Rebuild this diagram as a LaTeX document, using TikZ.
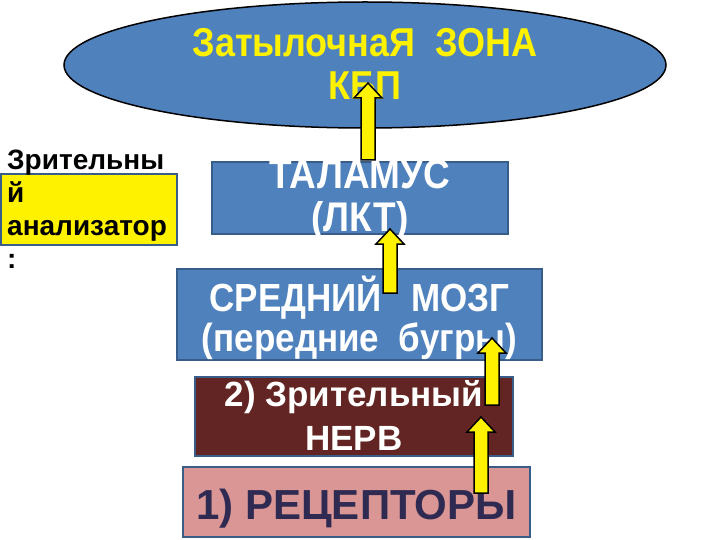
\documentclass[tikz,border=0pt]{standalone}
\usepackage{fontspec}
\setmainfont{Liberation Sans}
\usepackage{tikz}
\usetikzlibrary{calc, fit, shapes.geometric}

\definecolor{slideblue}{HTML}{4F81BD}
\definecolor{boxedge}{HTML}{385D8A}
\definecolor{nervered}{HTML}{632523}
\definecolor{receptpink}{HTML}{D99694}
\definecolor{receptink}{HTML}{2F2A52}

% slightly taller letters, as on the slide
\newcommand{\tall}[1]{\scalebox{1}[1.12]{#1}}

% block arrow from tail (#1) up to tip (#2)
\newcommand{\blockarrow}[2]{%
  \draw[arrowbox] let \p1=(#1), \p2=(#2) in
    (\x1-7pt,\y1) -- (\x1+7pt,\y1) -- (\x1+7pt,\y2-15pt) -- (\x1+14pt,\y2-15pt)
    -- (\x2,\y2) -- (\x1-14pt,\y2-15pt) -- (\x1-7pt,\y2-15pt) -- cycle;}

\begin{document}
\begin{tikzpicture}[x=1pt, y=-1pt,
    box/.style={draw=boxedge, line width=1.5pt, inner sep=0pt},
    boxtext/.style={align=center, inner sep=0pt, font=\bfseries\fontsize{37}{43}\selectfont},
    arrowbox/.style={draw=black, fill=yellow, line width=1.5pt, line join=miter}]
\useasboundingbox (0,0) rectangle (720,540);

\node[ellipse, draw=black, line width=1.5pt, fill=slideblue, minimum width=602pt,
      minimum height=126pt, inner sep=0pt] (zona) at (365,65) {};
\node[boxtext, text=yellow, font=\bfseries\fontsize{36}{43}\selectfont] (zonatext)
  at ([yshift=1pt]zona.center) {\tall{ЗатылочнаЯ\ \ ЗОНА}\\\tall{КБП}};

\node[box, fill=slideblue, fit={(212,162) (508,234)}] (thal) {};
\node[boxtext, text=white] (thaltext) at ([yshift=-2pt]thal.center) {\tall{ТАЛАМУС}\\\tall{(ЛКТ)}};

\node[box, fill=slideblue, fit={(177,269) (542,360)}] (mozg) {};
\node[boxtext, text=white, font=\bfseries\fontsize{35}{40}\selectfont] (mozgtext) at ([yshift=-3.7pt]mozg.center)
  {\tall{СРЕДНИЙ\ \ \ МОЗГ}\\\tall{(передние\ \ бугры)}};

\node[box, fill=nervered, fit={(195,377) (513,456)}] (nerv) {};
\node[boxtext, text=white, font=\bfseries\fontsize{35}{44}\selectfont] (nervtext) at ([yshift=1.5pt]nerv.center)
  {2) Зрительный\\НЕРВ};

\node[box, fill=receptpink, fit={(183,467) (530,537)}] (recep) {};
\node[boxtext, text=receptink, font=\bfseries\fontsize{42}{46}\selectfont] (receptext)
  at ([yshift=-7pt]recep.center) {1) РЕЦЕПТОРЫ};

\node[box, fill=yellow, fit={(1,174) (177,245)}] (anbox) {};
\node[anchor=north west, inner sep=0pt, align=left, font=\bfseries\fontsize{28}{33}\selectfont]
  (antext) at (7,150) {Зрительны\\й\\анализатор\\:};

\coordinate (a1t) at (368,160); \coordinate (a1h) at (368,83);
\coordinate (a2t) at (390,293); \coordinate (a2h) at (390,229);
\coordinate (a3t) at (492,405); \coordinate (a3h) at (492,338);
\coordinate (a4t) at (481,493); \coordinate (a4h) at (481,417);
\blockarrow{a1t}{a1h}
\blockarrow{a2t}{a2h}
\blockarrow{a3t}{a3h}
\blockarrow{a4t}{a4h}
\end{tikzpicture}
\end{document}
